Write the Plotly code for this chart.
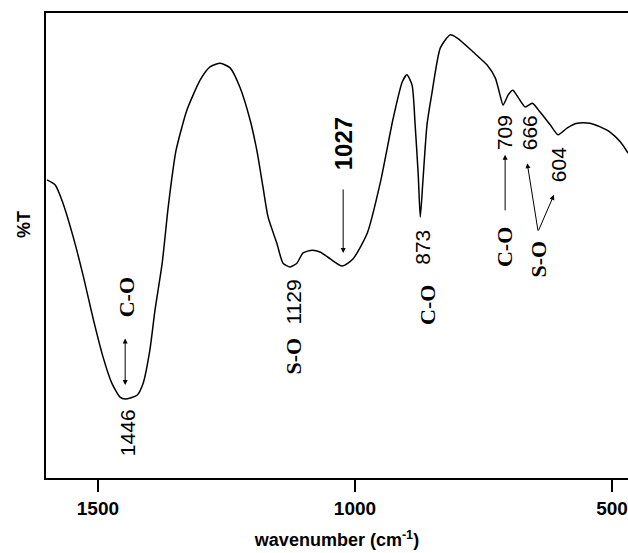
import plotly.graph_objects as go

# IR spectrum trace (wavenumber cm^-1, %T arbitrary)
wavenumber = [1599, 1583, 1568, 1548, 1528, 1510, 1490, 1473, 1457, 1447, 1424, 1412, 1399, 1389,
              1375, 1364, 1356, 1348, 1327, 1301, 1282, 1262, 1243, 1224, 1204, 1191, 1179, 1169,
              1152, 1140, 1126, 1113, 1101, 1083, 1068, 1048, 1025, 1004, 976, 951, 926, 908, 899,
              889, 883, 877, 873, 868, 860, 850, 834, 815, 801, 770, 743, 727, 718, 712, 702, 693,
              683, 669, 655, 640, 620, 605, 587, 568, 543, 523, 504, 484, 469]
transmittance = [64.1, 63.0, 59.1, 51.8, 43.2, 34.6, 26.0, 20.4, 17.4, 17.0, 17.8, 20.4, 27.5, 36.1,
                 46.2, 57.6, 64.7, 70.5, 79.1, 85.6, 88.4, 89.2, 88.2, 84.1, 77.0, 70.5, 62.6, 56.1,
                 50.5, 46.2, 45.4, 46.2, 48.4, 49.0, 48.6, 47.1, 45.6, 47.1, 52.7, 63.4, 77.2, 85.2,
                 86.7, 84.5, 75.9, 65.2, 56.1, 63.7, 75.9, 83.0, 92.5, 95.3, 94.6, 91.6, 88.8, 86.0,
                 82.4, 80.2, 82.4, 83.4, 81.9, 79.8, 80.6, 78.7, 75.9, 73.8, 75.3, 76.3, 76.3, 75.5,
                 74.4, 72.3, 69.9]

tick_vals = [1500, 1000, 500]
tick_text = ["1500", "1000", "500"]

# labels: (text, wavenumber, %T, font family, bold, size)
labels = [
    ("C-O", 1445, 38.9, "Liberation Serif", True, 22),
    ("1446", 1441, 9.7, "Liberation Sans", False, 21),
    ("S-O", 1120, 26.2, "Liberation Serif", True, 22),
    ("1129", 1120, 37.8, "Liberation Sans", False, 21),
    ("1027", 1023, 71.8, "Liberation Sans", True, 24),
    ("873", 868, 49.7, "Liberation Sans", False, 21),
    ("C-O", 860, 37.2, "Liberation Serif", True, 22),
    ("709", 708, 74.2, "Liberation Sans", False, 21),
    ("C-O", 708, 49.7, "Liberation Serif", True, 22),
    ("666", 659, 74.2, "Liberation Sans", False, 21),
    ("604", 605, 67.3, "Liberation Sans", False, 21),
    ("S-O", 644, 47.0, "Liberation Serif", True, 22),
]

# arrows: (head wavenumber, head %T, tail dx px, tail dy px, double)
arrows = [
    (1447, 20.0, 0, -48, True),
    (1023, 48.4, 0, -65, False),
    (708, 69.5, 0, 57, False),
    (665, 67.7, 11, 69, False),
    (613, 60.9, -16, 37, False),
]

fig = go.Figure()
fig.add_trace(go.Scatter(x=wavenumber, y=transmittance, mode="lines",
                         line=dict(color="black", width=1.5, shape="spline", smoothing=0.6),
                         showlegend=False))

for text, x, y, fam, bold, size in labels:
    fig.add_annotation(x=x, y=y, text=f"<b>{text}</b>" if bold else text, showarrow=False,
                       textangle=-90, font=dict(family=fam, size=size, color="black"))

for x, y, dx, dy, dbl in arrows:
    fig.add_annotation(x=x, y=y, text="", showarrow=True, ax=dx, ay=dy,
                       arrowhead=2, arrowsize=1, arrowwidth=1, arrowcolor="black",
                       startarrowhead=2, startarrowsize=1,
                       arrowside="end+start" if dbl else "end", standoff=0, startstandoff=0)

# y-axis title placed as annotation (sits above the plot's vertical centre in the reference)
fig.add_annotation(xref="paper", yref="paper", x=-0.038, y=0.546, text="<b>%T</b>",
                   showarrow=False, textangle=-90, xanchor="center", yanchor="middle",
                   font=dict(family="Liberation Sans", size=18, color="black"))

fig.update_layout(
    width=628, height=553,
    margin=dict(l=46, r=0, t=13, b=75),
    paper_bgcolor="white", plot_bgcolor="white",
    xaxis=dict(range=[1601, 469], tickvals=tick_vals, ticktext=tick_text,
               ticks="outside", ticklen=12, tickwidth=1.5, tickcolor="black",
               showline=True, linecolor="black", linewidth=1.5, mirror=True,
               showgrid=False, zeroline=False,
               tickfont=dict(family="Liberation Sans", size=19, color="black", weight="bold"),
               title=dict(text="<b>wavenumber (cm<sup>-1</sup>)</b>",
                          font=dict(family="Liberation Sans", size=18, color="black"),
                          standoff=16)),
    yaxis=dict(range=[0, 100], showticklabels=False, ticks="", showline=True,
               linecolor="black", linewidth=1.5, showgrid=False, zeroline=False),
)

fig.write_html("out.html")
